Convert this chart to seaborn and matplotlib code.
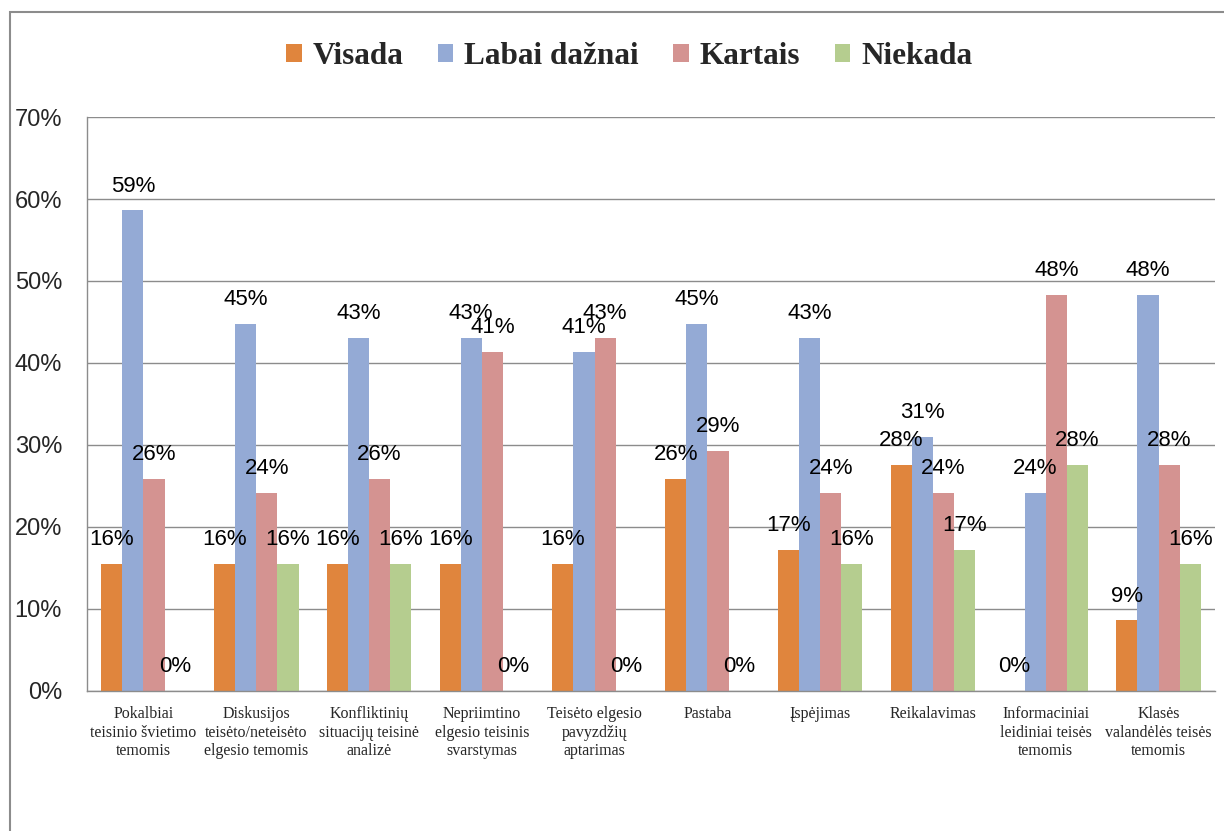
import pandas as pd
import numpy as np
import matplotlib.pyplot as plt
import seaborn as sns
from matplotlib.patches import Rectangle, Patch
from matplotlib.ticker import FixedLocator

# Category labels (x axis)
categories = [
    'Pokalbiai\nteisinio švietimo\ntemomis',
    'Diskusijos\nteisėto/neteisėto\nelgesio temomis',
    'Konfliktinių\nsituacijų teisinė\nanalizė',
    'Nepriimtino\nelgesio teisinis\nsvarstymas',
    'Teisėto elgesio\npavyzdžių\naptarimas',
    'Pastaba',
    'Įspėjimas',
    'Reikalavimas',
    'Informaciniai\nleidiniai teisės\ntemomis',
    'Klasės\nvalandėlės teisės\ntemomis',
]
series_names = ['Visada', 'Labai dažnai', 'Kartais', 'Niekada']

# Values in percent
visada = [15.5, 15.5, 15.5, 15.5, 15.5, 25.9, 17.2, 27.6, 0.0, 8.6]
labai_daznai = [58.6, 44.8, 43.1, 43.1, 41.4, 44.8, 43.1, 31.0, 24.1, 48.3]
kartais = [25.9, 24.1, 25.9, 41.4, 43.1, 29.3, 24.1, 24.1, 48.3, 27.6]
niekada = [0.0, 15.5, 15.5, 0.0, 0.0, 0.0, 15.5, 17.2, 27.6, 15.5]

colors = ['#E0853D', '#94AAD5', '#D49391', '#B5CD8F']

df = pd.DataFrame({
    'category': categories * 4,
    'series': np.repeat(series_names, len(categories)),
    'value': visada + labai_daznai + kartais + niekada,
})

sns.set_style('white')
fig = plt.figure(figsize=(12.24, 8.31), dpi=100)
ax = fig.add_axes([0.0711, 0.1685, 0.9215, 0.6907])

sns.barplot(data=df, x='category', y='value', hue='series', order=categories,
            hue_order=series_names, palette=colors, width=0.75, saturation=1,
            linewidth=0, legend=False, ax=ax)

# Data labels
for cont in ax.containers:
    labels = [f'{round(b.get_height()):.0f}%' for b in cont]
    ax.bar_label(cont, labels=labels, padding=10, fontsize=16,
                 family='Liberation Sans', color='black')

# Axes styling
grey = '#8C8C8C'
ax.set_ylim(0, 70)
ax.set_xlim(-0.5, len(categories) - 0.5)
ax.set_yticks(range(0, 71, 10))
ax.set_yticklabels([f'{v}%' for v in range(0, 71, 10)], fontsize=17,
                   family='Liberation Sans')
ax.yaxis.grid(True, color=grey, linewidth=1)
ax.set_axisbelow(True)
ax.tick_params(axis='y', length=9, color=grey, width=1, pad=9)
ax.set_xticks(range(len(categories)))
ax.set_xticklabels(categories, fontsize=11.5, family='Liberation Serif',
                   linespacing=1.2)
ax.tick_params(axis='x', which='major', length=0, pad=11)
ax.xaxis.set_minor_locator(FixedLocator(np.arange(-0.5, len(categories), 1)))
ax.tick_params(axis='x', which='minor', length=6, color=grey, width=1)
ax.set_xlabel('')
ax.set_ylabel('')
for side in ['top', 'right']:
    ax.spines[side].set_visible(False)
for side in ['left', 'bottom']:
    ax.spines[side].set_color(grey)
    ax.spines[side].set_linewidth(1)

# Legend
handles = [Patch(facecolor=c, edgecolor='none') for c in colors]
fig.legend(handles, series_names, loc='center', bbox_to_anchor=(0.514, 0.932),
           ncol=4, frameon=False, handlelength=0.5, handleheight=0.5,
           handletextpad=0.35, columnspacing=1.1,
           prop={'family': 'Liberation Serif', 'weight': 'bold', 'size': 22.5})

# Outer chart frame
fig.patches.append(Rectangle((10 / 1224, -0.1), 2, 1.1 - 12 / 831,
                             transform=fig.transFigure, fill=False,
                             edgecolor=grey, linewidth=1.5))

fig.savefig('out.png', dpi=100)
